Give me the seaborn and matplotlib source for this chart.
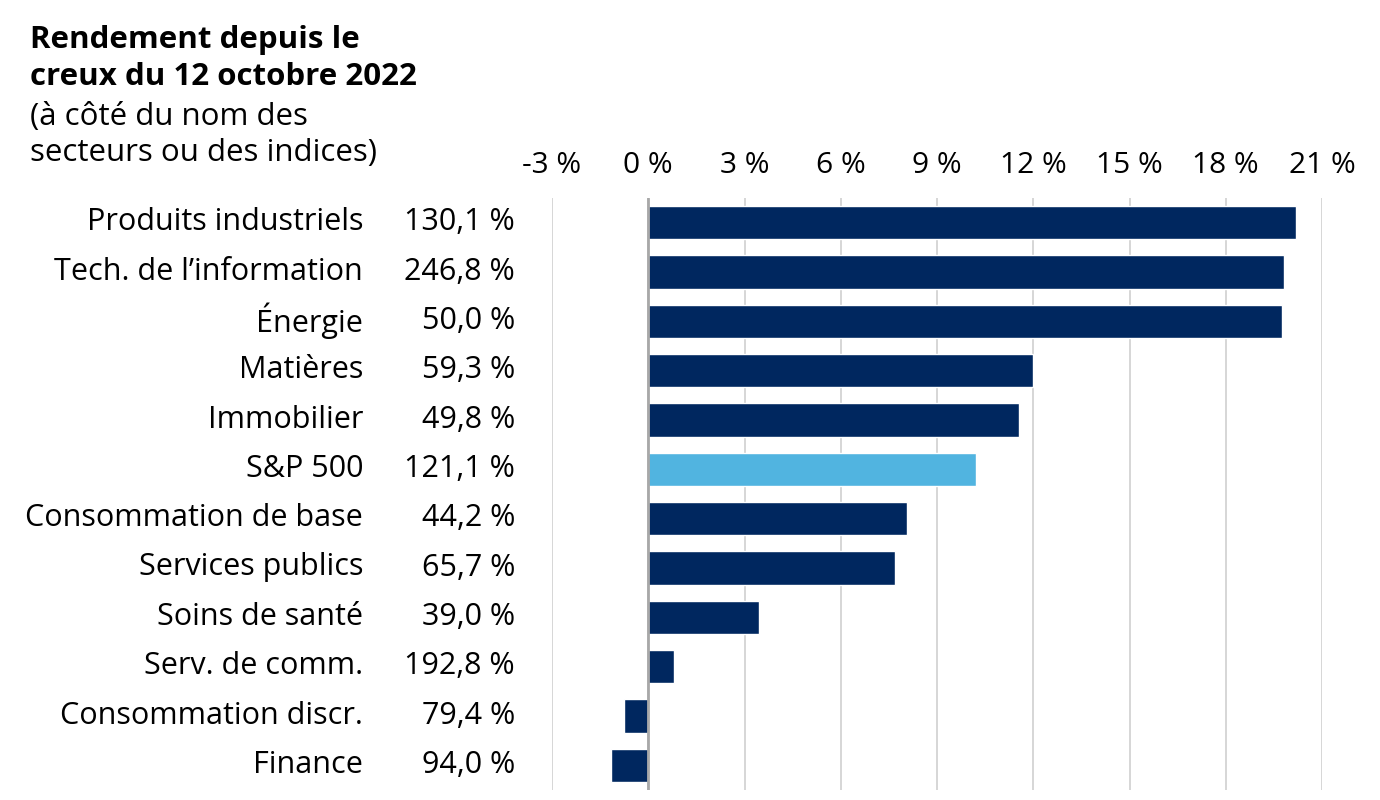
import matplotlib
matplotlib.use("Agg")
import matplotlib.pyplot as plt
import matplotlib.transforms as mtransforms
import seaborn as sns
import pandas as pd

# Data
sectors = ["Produits industriels", "Tech. de l\u2019information", "\u00c9nergie", "Mati\u00e8res",
           "Immobilier", "S&P 500", "Consommation de base", "Services publics",
           "Soins de sant\u00e9", "Serv. de comm.", "Consommation discr.", "Finance"]
returns = [20.2, 19.8, 19.75, 12.0, 11.55, 10.2, 8.05, 7.7, 3.45, 0.8, -0.75, -1.15]
since_low = ["130,1 %", "246,8 %", "50,0 %", "59,3 %", "49,8 %", "121,1 %",
             "44,2 %", "65,7 %", "39,0 %", "192,8 %", "79,4 %", "94,0 %"]
xticks = [-3, 0, 3, 6, 9, 12, 15, 18, 21]

navy = "#00275f"
light = "#51b4e0"
colors = [light if s == "S&P 500" else navy for s in sectors]

df = pd.DataFrame({"sector": sectors, "ret": returns})

sns.set_style("white")
plt.rcParams["font.family"] = ["Open Sans", "DejaVu Sans"]
plt.rcParams["text.color"] = "black"
plt.rcParams["xtick.color"] = "black"
plt.rcParams["ytick.color"] = "black"

fig = plt.figure(figsize=(13.8, 8), dpi=100)
ax = fig.add_axes([0.4, 0.0125, 0.558, 0.74])

sns.barplot(data=df, x="ret", y="sector", hue="sector", palette=colors,
            legend=False, width=0.67, orient="h", ax=ax, saturation=1)

ax.set_xlim(-3, 21)
ax.set_ylim(11.5, -0.5)
ax.set_xticks(xticks)
ax.set_xticklabels([f"{t} %" for t in xticks], fontsize=21.5)
ax.xaxis.tick_top()
ax.tick_params(axis="x", length=0, pad=13)
ax.grid(axis="x", color="#cfcfcf", linewidth=1.2)
ax.axvline(0, color="#a8a8a8", linewidth=2, zorder=3)
ax.set_axisbelow(True)
for sp in ax.spines.values():
    sp.set_visible(False)

ax.set_xlabel("")
ax.set_ylabel("")
ax.tick_params(axis="y", length=0, pad=136, labelsize=22)

# nudge the row texts up a few pixels, like the reference
lift = mtransforms.ScaledTranslation(0, 0.04, fig.dpi_scale_trans)
for lab in ax.get_yticklabels():
    lab.set_transform(lab.get_transform() + lift)

# values next to the names
trans = mtransforms.blended_transform_factory(ax.transAxes, ax.transData) + lift
for i, v in enumerate(since_low):
    ax.text(-0.048, i, v, transform=trans, ha="right", va="center_baseline", fontsize=22)

# title block
fig.text(0.022, 0.927, "Rendement depuis le\ncreux du 12 octobre 2022", fontsize=22.5,
         fontweight="bold", ha="left", va="center", linespacing=1.27)
fig.text(0.022, 0.831, "(\u00e0 c\u00f4t\u00e9 du nom des\nsecteurs ou des indices)", fontsize=22.5,
         ha="left", va="center", linespacing=1.27)

plt.savefig("out.png", dpi=100)
